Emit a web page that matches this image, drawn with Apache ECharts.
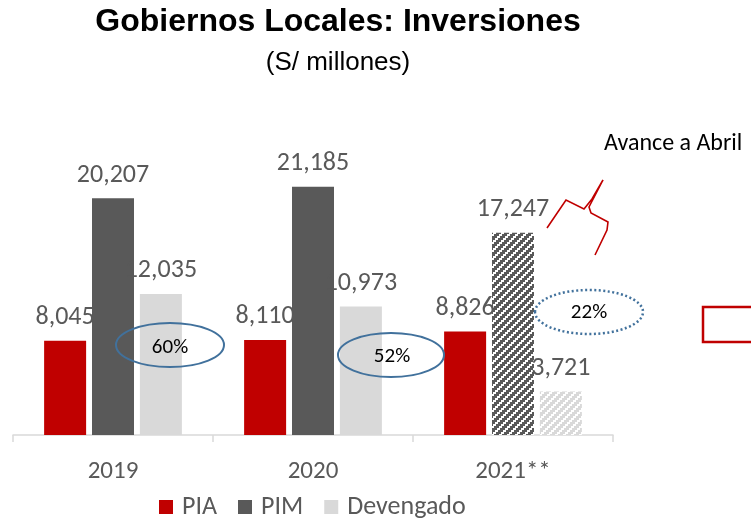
<!DOCTYPE html>
<html>
<head>
<meta charset="utf-8">
<script src="https://cdn.jsdelivr.net/npm/echarts@6/dist/echarts.min.js"></script>
<style>
html,body{margin:0;padding:0;background:#fff;}
#chart{width:751px;height:521px;}
</style>
</head>
<body>
<div id="chart"></div>
<script>
// ---- data ----
var categories = ['2019', '2020', '2021**'];
var seriesNames = ['PIA', 'PIM', 'Devengado'];
var pia = [8045, 8110, 8826];
var pim = [20207, 21185, 17247];
var devengado = [12035, 10973, 3721];
var avanceLabels = ['60%', '52%', '22%'];
var noteText = 'Avance a Abril';
var titleText = 'Gobiernos Locales: Inversiones';
var subtitleText = '(S/ millones)';

// ---- styles ----
var FONT = 'Carlito, Calibri, Lato, sans-serif';
var TXT = '#595959';
var C_PIA = '#C00000', C_PIM = '#595959', C_DEV = '#D9D9D9';

function makeStripes(fg, bg, on) {
  var c = document.createElement('canvas');
  c.width = 8; c.height = 8;
  var ctx = c.getContext('2d');
  for (var y = 0; y < 8; y++) {
    for (var x = 0; x < 8; x++) {
      ctx.fillStyle = ((x + 2 * Math.floor(y / 2)) % 8) < on ? fg : bg;
      ctx.fillRect(x, y, 1, 1);
    }
  }
  return { image: c, repeat: 'repeat' };
}
var pimPattern = makeStripes(C_PIM, '#ffffff', 5);
var devPattern = makeStripes(C_DEV, '#ffffff', 5);

function fmt(v) { return Number(v).toLocaleString('en-US'); }

function build(values, pattern) {
  return values.map(function (v, i) {
    if (pattern && i === values.length - 1) return { value: v, itemStyle: { color: pattern } };
    return v;
  });
}

var labelCfg = {
  show: true, position: 'top', distance: 10,
  color: TXT, fontFamily: FONT, fontSize: 26,
  formatter: function (p) { return fmt(p.value); }
};

var chart = echarts.init(document.getElementById('chart'), null, { renderer: 'canvas' });
chart.setOption({
  animation: false,
  backgroundColor: '#ffffff',
  title: [
    { text: titleText, left: 338, top: 6, padding: 0, textAlign: 'center',
      textStyle: { fontFamily: 'Liberation Sans, Arial, sans-serif', fontWeight: 'bold', fontSize: 32, color: '#000' } },
    { text: subtitleText, left: 338, top: 50, padding: 0, textAlign: 'center',
      textStyle: { fontFamily: 'Liberation Sans, Arial, sans-serif', fontWeight: 'normal', fontSize: 26, color: '#000' } }
  ],
  legend: {
    data: seriesNames, left: 159, top: 494, padding: 0, icon: 'rect', itemWidth: 14, itemHeight: 14, itemGap: 21,
    textStyle: { fontFamily: FONT, fontSize: 26, color: TXT, padding: [0, 0, 0, 4] }
  },
  grid: { left: 13, right: 138, top: 142, bottom: 86, containLabel: false },
  xAxis: {
    type: 'category', data: categories,
    axisLine: { lineStyle: { color: '#D9D9D9', width: 1.5 } },
    axisTick: { show: true, length: 7, lineStyle: { color: '#D9D9D9', width: 1.5 } },
    axisLabel: { color: TXT, fontFamily: FONT, fontSize: 25, margin: 24 }
  },
  yAxis: { type: 'value', min: 0, max: 25000, show: false, splitLine: { show: false } },
  series: [
    { name: 'PIA', type: 'bar', data: build(pia), barWidth: 42, barGap: '14%', itemStyle: { color: C_PIA }, label: labelCfg },
    { name: 'PIM', type: 'bar', data: build(pim, pimPattern), barWidth: 42, barGap: '14%', itemStyle: { color: C_PIM }, label: labelCfg },
    { name: 'Devengado', type: 'bar', z: 3, data: build(devengado, devPattern), barWidth: 42, barGap: '14%', itemStyle: { color: C_DEV }, label: labelCfg }
  ],
  graphic: [
    { type: 'ellipse', z: 100, shape: { cx: 170, cy: 345, rx: 54, ry: 22 }, style: { fill: 'none', stroke: '#41719C', lineWidth: 2 } },
    { type: 'ellipse', z: 100, shape: { cx: 391, cy: 355, rx: 53, ry: 22 }, style: { fill: 'none', stroke: '#41719C', lineWidth: 2 } },
    { type: 'ellipse', z: 100, shape: { cx: 589, cy: 312, rx: 54, ry: 22 }, style: { fill: 'none', stroke: '#41719C', lineWidth: 2.5, lineDash: [2, 2.5] } },
    { type: 'text', z: 101, x: 170, y: 348, style: { text: avanceLabels[0], font: '21px ' + FONT, fill: '#000', align: 'center', verticalAlign: 'middle' } },
    { type: 'text', z: 101, x: 392, y: 357, style: { text: avanceLabels[1], font: '21px ' + FONT, fill: '#000', align: 'center', verticalAlign: 'middle' } },
    { type: 'text', z: 101, x: 589, y: 313, style: { text: avanceLabels[2], font: '21px ' + FONT, fill: '#000', align: 'center', verticalAlign: 'middle' } },
    { type: 'text', z: 101, x: 604, y: 144, style: { text: noteText, font: '24px ' + FONT, fill: '#000', align: 'left', verticalAlign: 'middle' } },
    { type: 'polyline', z: 100, shape: { points: [[547, 228], [566, 200], [584, 209], [592, 199], [603, 180], [589, 207], [591, 213], [608, 222], [607, 230], [595, 255]] },
      style: { fill: 'none', stroke: '#C00000', lineWidth: 1.6 } },
    { type: 'rect', z: 100, shape: { x: 703, y: 307, width: 60, height: 35 }, style: { fill: 'none', stroke: '#C00000', lineWidth: 2.5 } }
  ]
});
</script>
</body>
</html>
